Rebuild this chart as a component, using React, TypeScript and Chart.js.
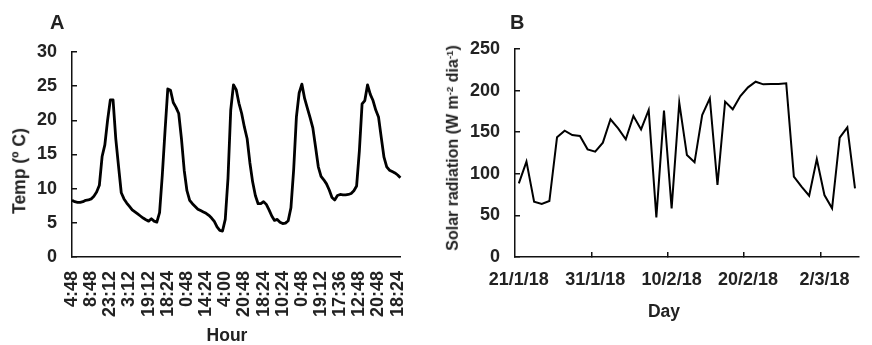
import React, { useEffect, useRef } from 'react';
import { Chart, registerables } from 'chart.js';

Chart.register(...registerables);

// ---------- Data ----------
// Panel A: hourly temperature readings (ºC); a tick label is printed every HOUR_LABEL_EVERY readings
const hourTicks = ['4:48', '8:48', '23:12', '3:12', '19:12', '18:24', '0:48', '14:24', '4:00', '20:48', '18:24', '10:24', '0:48', '19:12', '17:36', '12:48', '20:48', '18:24'];
const HOUR_LABEL_EVERY = 7;
const tempValues = [
  8.3, 8.1, 8.0, 8.0, 8.1, 8.3, 8.35, 8.5, 8.9, 9.5,
  10.5, 14.7, 16.4, 20, 23, 23, 17.3, 13.3, 9.4, 8.5,
  7.9, 7.4, 6.9, 6.6, 6.3, 6.0, 5.7, 5.45, 5.25, 5.6,
  5.25, 5.1, 6.5, 12, 18.5, 24.6, 24.4, 22.6, 21.9, 21,
  17.3, 12.7, 9.7, 8.3, 7.8, 7.4, 7.0, 6.8, 6.6, 6.4,
  6.1, 5.7, 5.2, 4.4, 3.9, 3.8, 5.5, 11.5, 21.5, 25.2,
  24.5, 22.5, 21, 19, 17.3, 13.8, 11, 9, 7.8, 7.8,
  8.1, 7.7, 6.9, 6.0, 5.35, 5.5, 5.1, 4.9, 4.95, 5.3,
  7.2, 12.8, 20.5, 24, 25.3, 23.2, 21.8, 20.4, 18.9, 16.1,
  13.2, 11.8, 11.3, 10.7, 9.8, 8.7, 8.35, 9.0, 9.15, 9.1,
  9.1, 9.15, 9.3, 9.7, 10.4, 15.5, 22.4, 22.9, 25.2, 23.8,
  22.9, 21.5, 20.5, 17.5, 14.6, 13.2, 12.7, 12.5, 12.3, 12.0,
  11.6,
];
const tempAxis = { min: 0, max: 30, step: 5 };

// Panel B: daily solar radiation (W m-2 dia-1)
const dayLabels = [
  '21/1/18', '22/1/18', '23/1/18', '24/1/18', '25/1/18', '26/1/18', '27/1/18', '28/1/18', '29/1/18', '30/1/18',
  '31/1/18', '1/2/18', '2/2/18', '3/2/18', '4/2/18', '5/2/18', '6/2/18', '7/2/18', '8/2/18', '9/2/18',
  '10/2/18', '11/2/18', '12/2/18', '13/2/18', '14/2/18', '15/2/18', '16/2/18', '17/2/18', '18/2/18', '19/2/18',
  '20/2/18', '21/2/18', '22/2/18', '23/2/18', '24/2/18', '25/2/18', '26/2/18', '27/2/18', '28/2/18', '1/3/18',
  '2/3/18', '3/3/18', '4/3/18', '5/3/18', '6/3/18',
];
const DAY_LABEL_EVERY = 10;
const radiationValues = [
  88.5, 114.6, 66.5, 63.7, 67.3, 143.8, 151.8, 146.6, 145.4, 129.4,
  126.6, 137.4, 165.5, 154.6, 141.4, 169.5, 153.4, 176.7, 47.7, 175.9,
  58.5, 185.5, 122.6, 113.8, 170.7, 190.7, 86.5, 186.7, 177.5, 193.5,
  203.9, 210.7, 207.5, 207.9, 207.9, 208.7, 96.6, 84.5, 73.7, 117.8,
  74.5, 58.5, 143.4, 155.8, 82.5,
];
const radAxis = { min: 0, max: 250, step: 50 };

// ---------- Styles ----------
const FONT = "'Liberation Sans', Arial, Helvetica, sans-serif";
const TEXT = '#222';
const AXIS = '#111';
const tickFont = { family: FONT, size: 18, weight: 'bold' as const };

function App() {
  const refA = useRef<HTMLCanvasElement | null>(null);
  const refB = useRef<HTMLCanvasElement | null>(null);

  useEffect(() => {
    const hourCategories = tempValues.map((_, i) =>
      i % HOUR_LABEL_EVERY === 0 ? hourTicks[i / HOUR_LABEL_EVERY] ?? '' : ''
    );
    const chartA = new Chart(refA.current as HTMLCanvasElement, {
      type: 'line',
      data: {
        labels: hourCategories,
        datasets: [{
          data: tempValues,
          borderColor: '#000',
          borderWidth: 2.8,
          pointRadius: 0,
          tension: 0,
          fill: false,
          borderJoinStyle: 'round',
        }],
      },
      options: {
        animation: false,
        responsive: false,
        maintainAspectRatio: false,
        layout: { padding: { left: 0, top: 52, right: 6, bottom: 0 } },
        plugins: { legend: { display: false }, tooltip: { enabled: false } },
        scales: {
          x: {
            type: 'category',
            offset: false,
            grid: { display: false, drawTicks: false },
            border: { display: true, color: AXIS, width: 1.5 },
            ticks: {
              autoSkip: false,
              minRotation: 90,
              maxRotation: 90,
              padding: 14,
              color: TEXT,
              font: tickFont,
            },
            afterFit: (s: any) => { s.height = 88; },
          },
          y: {
            min: tempAxis.min,
            max: tempAxis.max,
            ticks: { stepSize: tempAxis.step, padding: 20, color: TEXT, font: tickFont },
            grid: { drawOnChartArea: false, drawTicks: true, tickLength: -5, color: AXIS, lineWidth: 1.5 },
            border: { display: true, color: AXIS, width: 1.5 },
            afterFit: (s: any) => { s.width = 72; },
          },
        },
      },
    } as any);

    const chartB = new Chart(refB.current as HTMLCanvasElement, {
      type: 'line',
      data: {
        labels: dayLabels,
        datasets: [{
          data: radiationValues,
          borderColor: '#000',
          borderWidth: 2,
          pointRadius: 0,
          tension: 0,
          fill: false,
        }],
      },
      options: {
        animation: false,
        responsive: false,
        maintainAspectRatio: false,
        layout: { padding: { left: 0, top: 49, right: 1, bottom: 0 } },
        plugins: { legend: { display: false }, tooltip: { enabled: false } },
        scales: {
          x: {
            type: 'category',
            offset: true,
            grid: {
              offset: true,
              drawOnChartArea: false,
              drawTicks: true,
              tickLength: -5,
              lineWidth: 1.5,
              color: (ctx: any) =>
                ctx.index > 0 && ctx.index % DAY_LABEL_EVERY === 0 && ctx.index < dayLabels.length ? AXIS : 'rgba(0,0,0,0)',
            },
            border: { display: true, color: AXIS, width: 1.5 },
            ticks: {
              autoSkip: false,
              maxRotation: 0,
              minRotation: 0,
              padding: 17,
              color: TEXT,
              font: tickFont,
              callback: (_v: any, i: number) => (i % DAY_LABEL_EVERY === 0 ? dayLabels[i] : ''),
            },
            afterFit: (s: any) => { s.height = 88; },
          },
          y: {
            min: radAxis.min,
            max: radAxis.max,
            ticks: { stepSize: radAxis.step, padding: 20, color: TEXT, font: tickFont },
            grid: { drawOnChartArea: false, drawTicks: true, tickLength: -5, color: AXIS, lineWidth: 1.5 },
            border: { display: true, color: AXIS, width: 1.5 },
            afterFit: (s: any) => { s.width = 79; },
          },
        },
      },
    } as any);

    return () => {
      chartA.destroy();
      chartB.destroy();
    };
  }, []);

  const label = (extra: React.CSSProperties): React.CSSProperties => ({
    position: 'absolute',
    fontFamily: FONT,
    fontWeight: 'bold',
    color: TEXT,
    whiteSpace: 'nowrap',
    lineHeight: 1,
    pointerEvents: 'none',
    ...extra,
  });

  return (
    <div style={{ position: 'absolute', left: 0, top: 0, width: 872, height: 345, background: '#fff', overflow: 'hidden' }}>
      <canvas ref={refA} width={436} height={345} style={{ position: 'absolute', left: 0, top: 0, width: 436, height: 345 }} />
      <canvas ref={refB} width={436} height={345} style={{ position: 'absolute', left: 436, top: 0, width: 436, height: 345 }} />
      <div style={label({ left: 50, top: 12, fontSize: 20 })}>A</div>
      <div style={label({ left: 510, top: 12, fontSize: 20 })}>B</div>
      <div style={label({ left: 20, top: 171, fontSize: 17.5, transform: 'translate(-50%, -50%) rotate(-90deg)' })}>Temp (º C)</div>
      <div style={label({ left: 453, top: 148, fontSize: 16, transform: 'translate(-50%, -50%) rotate(-90deg)' })}>
        Solar radiation (W m<sup style={{ fontSize: '0.6em', verticalAlign: '0.55em' }}>-2</sup> dia<sup style={{ fontSize: '0.6em', verticalAlign: '0.55em' }}>-1</sup>)
      </div>
      <div style={label({ left: 227, top: 336, fontSize: 17.5, transform: 'translate(-50%, -50%)' })}>Hour</div>
      <div style={label({ left: 664, top: 312, fontSize: 17.5, transform: 'translate(-50%, -50%)' })}>Day</div>
    </div>
  );
}

export default App;
